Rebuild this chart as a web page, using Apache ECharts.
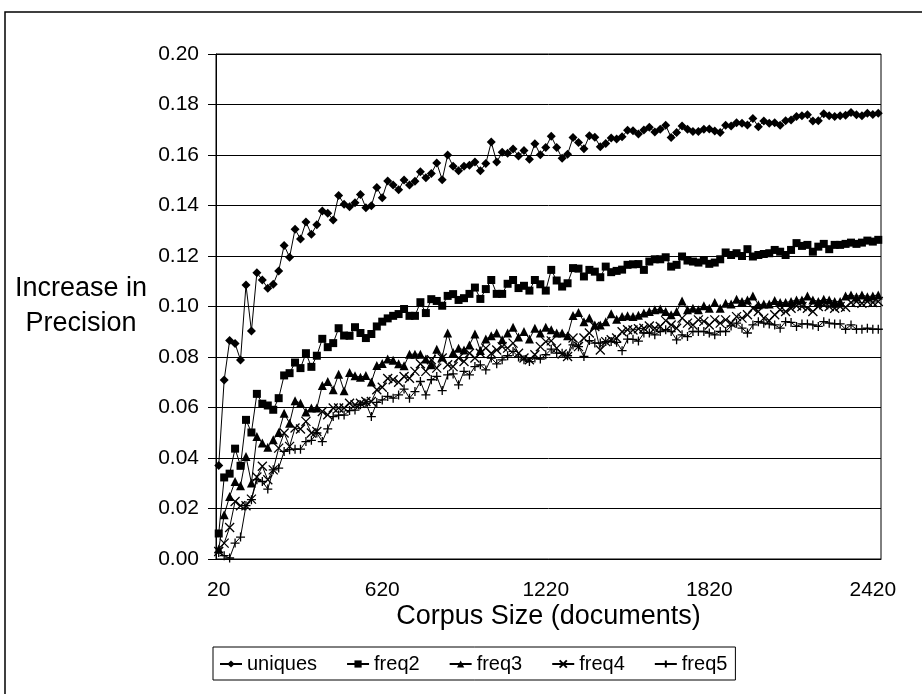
<!DOCTYPE html>
<html>
<head>
<meta charset="utf-8">
<script src="https://cdn.jsdelivr.net/npm/echarts@6/dist/echarts.min.js"></script>
<style>
  html, body { margin: 0; padding: 0; background: #fff; }
  #chart { width: 922px; height: 694px; }
</style>
</head>
<body>
<div id="chart"></div>
<script>
// corpus sizes (documents)
const sizes = [
  20, 40, 60, 80, 100, 120, 140, 160, 180, 200, 220, 240, 260, 280, 300, 320, 340, 360, 380, 400,
  420, 440, 460, 480, 500, 520, 540, 560, 580, 600, 620, 640, 660, 680, 700, 720, 740, 760, 780, 800,
  820, 840, 860, 880, 900, 920, 940, 960, 980, 1000, 1020, 1040, 1060, 1080, 1100, 1120, 1140, 1160, 1180, 1200,
  1220, 1240, 1260, 1280, 1300, 1320, 1340, 1360, 1380, 1400, 1420, 1440, 1460, 1480, 1500, 1520, 1540, 1560, 1580, 1600,
  1620, 1640, 1660, 1680, 1700, 1720, 1740, 1760, 1780, 1800, 1820, 1840, 1860, 1880, 1900, 1920, 1940, 1960, 1980, 2000,
  2020, 2040, 2060, 2080, 2100, 2120, 2140, 2160, 2180, 2200, 2220, 2240, 2260, 2280, 2300, 2320, 2340, 2360, 2380, 2400,
  2420, 2440
];

const uniques = [
  0.0370, 0.0709, 0.0865, 0.0853, 0.0788, 0.1085, 0.0903, 0.1134, 0.1105, 0.1072,
  0.1088, 0.1141, 0.1242, 0.1195, 0.1306, 0.1267, 0.1335, 0.1286, 0.1324, 0.1378,
  0.1369, 0.1343, 0.1440, 0.1405, 0.1395, 0.1411, 0.1444, 0.1391, 0.1399, 0.1471,
  0.1431, 0.1497, 0.1481, 0.1462, 0.1501, 0.1481, 0.1496, 0.1534, 0.1510, 0.1527,
  0.1568, 0.1502, 0.1600, 0.1555, 0.1538, 0.1555, 0.1559, 0.1572, 0.1538, 0.1566,
  0.1651, 0.1572, 0.1611, 0.1607, 0.1624, 0.1596, 0.1618, 0.1583, 0.1645, 0.1601,
  0.1630, 0.1674, 0.1630, 0.1587, 0.1603, 0.1669, 0.1650, 0.1625, 0.1676, 0.1670,
  0.1633, 0.1646, 0.1667, 0.1663, 0.1672, 0.1698, 0.1696, 0.1683, 0.1699, 0.1710,
  0.1691, 0.1702, 0.1718, 0.1669, 0.1689, 0.1715, 0.1702, 0.1693, 0.1693, 0.1702,
  0.1703, 0.1695, 0.1689, 0.1718, 0.1715, 0.1728, 0.1726, 0.1719, 0.1745, 0.1712,
  0.1735, 0.1726, 0.1728, 0.1718, 0.1736, 0.1739, 0.1752, 0.1755, 0.1759, 0.1735,
  0.1736, 0.1763, 0.1755, 0.1752, 0.1755, 0.1757, 0.1768, 0.1759, 0.1755, 0.1765,
  0.1760, 0.1765
];

const freq2 = [
  0.0101, 0.0323, 0.0338, 0.0437, 0.0369, 0.0551, 0.0501, 0.0654, 0.0615, 0.0608,
  0.0591, 0.0637, 0.0727, 0.0736, 0.0778, 0.0756, 0.0815, 0.0761, 0.0805, 0.0872,
  0.0839, 0.0855, 0.0914, 0.0885, 0.0884, 0.0918, 0.0895, 0.0875, 0.0891, 0.0921,
  0.0940, 0.0953, 0.0963, 0.0970, 0.0990, 0.0963, 0.0963, 0.1017, 0.0974, 0.1029,
  0.1022, 0.1003, 0.1042, 0.1049, 0.1026, 0.1033, 0.1050, 0.1075, 0.1030, 0.1069,
  0.1105, 0.1050, 0.1050, 0.1090, 0.1105, 0.1073, 0.1082, 0.1063, 0.1105, 0.1088,
  0.1063, 0.1145, 0.1103, 0.1079, 0.1092, 0.1152, 0.1150, 0.1119, 0.1145, 0.1138,
  0.1116, 0.1158, 0.1136, 0.1141, 0.1146, 0.1165, 0.1167, 0.1168, 0.1145, 0.1178,
  0.1187, 0.1187, 0.1195, 0.1158, 0.1165, 0.1198, 0.1182, 0.1178, 0.1174, 0.1182,
  0.1169, 0.1174, 0.1187, 0.1214, 0.1204, 0.1211, 0.1200, 0.1227, 0.1198, 0.1204,
  0.1208, 0.1211, 0.1224, 0.1217, 0.1204, 0.1224, 0.1251, 0.1240, 0.1244, 0.1217,
  0.1237, 0.1248, 0.1227, 0.1244, 0.1244, 0.1248, 0.1253, 0.1248, 0.1253, 0.1261,
  0.1257, 0.1264
];

const freq3 = [
  0.0040, 0.0175, 0.0248, 0.0307, 0.0290, 0.0406, 0.0301, 0.0485, 0.0459, 0.0443,
  0.0472, 0.0501, 0.0577, 0.0538, 0.0627, 0.0617, 0.0582, 0.0598, 0.0598, 0.0687,
  0.0703, 0.0670, 0.0732, 0.0666, 0.0739, 0.0726, 0.0720, 0.0727, 0.0701, 0.0766,
  0.0774, 0.0792, 0.0787, 0.0773, 0.0765, 0.0811, 0.0811, 0.0811, 0.0792, 0.0769,
  0.0831, 0.0800, 0.0895, 0.0818, 0.0835, 0.0828, 0.0848, 0.0891, 0.0826, 0.0871,
  0.0884, 0.0895, 0.0868, 0.0895, 0.0918, 0.0879, 0.0901, 0.0871, 0.0914, 0.0895,
  0.0918, 0.0908, 0.0895, 0.0895, 0.0884, 0.0964, 0.0976, 0.0940, 0.0954, 0.0927,
  0.0927, 0.0940, 0.0971, 0.0950, 0.0960, 0.0963, 0.0960, 0.0965, 0.0974, 0.0980,
  0.0987, 0.0990, 0.0980, 0.0967, 0.0980, 0.1022, 0.0987, 0.0993, 0.0987, 0.1003,
  0.0993, 0.1016, 0.0993, 0.1013, 0.1010, 0.1029, 0.1020, 0.1026, 0.1042, 0.1007,
  0.1010, 0.1010, 0.1024, 0.1016, 0.1016, 0.1020, 0.1026, 0.1026, 0.1042, 0.1026,
  0.1020, 0.1029, 0.1026, 0.1020, 0.1020, 0.1042, 0.1046, 0.1039, 0.1046, 0.1039,
  0.1042, 0.1046
];

const freq4 = [
  0.0030, 0.0063, 0.0125, 0.0228, 0.0211, 0.0211, 0.0237, 0.0325, 0.0367, 0.0314,
  0.0353, 0.0439, 0.0499, 0.0446, 0.0519, 0.0515, 0.0545, 0.0499, 0.0505, 0.0584,
  0.0571, 0.0598, 0.0598, 0.0598, 0.0617, 0.0611, 0.0617, 0.0624, 0.0624, 0.0670,
  0.0680, 0.0715, 0.0710, 0.0700, 0.0723, 0.0716, 0.0743, 0.0773, 0.0743, 0.0789,
  0.0756, 0.0796, 0.0769, 0.0762, 0.0796, 0.0782, 0.0815, 0.0796, 0.0815, 0.0835,
  0.0815, 0.0828, 0.0841, 0.0835, 0.0855, 0.0815, 0.0796, 0.0789, 0.0809, 0.0841,
  0.0861, 0.0864, 0.0835, 0.0812, 0.0802, 0.0875, 0.0841, 0.0875, 0.0895, 0.0921,
  0.0828, 0.0861, 0.0868, 0.0875, 0.0900, 0.0908, 0.0907, 0.0912, 0.0914, 0.0923,
  0.0914, 0.0921, 0.0944, 0.0927, 0.0914, 0.0954, 0.0934, 0.0927, 0.0947, 0.0941,
  0.0927, 0.0947, 0.0934, 0.0947, 0.0934, 0.0960, 0.0954, 0.0967, 0.0993, 0.0980,
  0.0954, 0.0944, 0.0967, 0.0987, 0.0980, 0.0993, 0.1003, 0.1000, 0.0993, 0.0980,
  0.1000, 0.1007, 0.1000, 0.0993, 0.1000, 0.0997, 0.1016, 0.1020, 0.1013, 0.1020,
  0.1016, 0.1020
];

const freq5 = [
  0.0026, 0.0013, 0.0004, 0.0063, 0.0087, 0.0211, 0.0235, 0.0314, 0.0307, 0.0277,
  0.0353, 0.0360, 0.0426, 0.0433, 0.0435, 0.0435, 0.0465, 0.0470, 0.0499, 0.0465,
  0.0515, 0.0564, 0.0570, 0.0570, 0.0588, 0.0590, 0.0611, 0.0617, 0.0564, 0.0620,
  0.0630, 0.0644, 0.0637, 0.0650, 0.0673, 0.0637, 0.0663, 0.0703, 0.0650, 0.0710,
  0.0723, 0.0667, 0.0729, 0.0733, 0.0690, 0.0743, 0.0729, 0.0762, 0.0769, 0.0749,
  0.0796, 0.0773, 0.0789, 0.0805, 0.0822, 0.0800, 0.0789, 0.0782, 0.0796, 0.0792,
  0.0809, 0.0831, 0.0815, 0.0815, 0.0805, 0.0848, 0.0841, 0.0802, 0.0865, 0.0855,
  0.0855, 0.0861, 0.0861, 0.0858, 0.0825, 0.0871, 0.0870, 0.0863, 0.0895, 0.0895,
  0.0888, 0.0901, 0.0908, 0.0901, 0.0868, 0.0888, 0.0881, 0.0901, 0.0901, 0.0901,
  0.0895, 0.0888, 0.0901, 0.0901, 0.0923, 0.0934, 0.0914, 0.0895, 0.0927, 0.0940,
  0.0934, 0.0931, 0.0927, 0.0914, 0.0940, 0.0937, 0.0921, 0.0931, 0.0931, 0.0927,
  0.0921, 0.0940, 0.0934, 0.0931, 0.0931, 0.0910, 0.0927, 0.0910, 0.0910, 0.0914,
  0.0910, 0.0910
];

const yTicks = ['0.00', '0.02', '0.04', '0.06', '0.08', '0.10', '0.12', '0.14', '0.16', '0.18', '0.20'];

// marker shapes, Excel style
const xMark = 'path://M0,0L10,10M10,0L0,10';
const plusMark = 'path://M5,0L5,10M0,5L10,5';

function lineSeries(name, data, symbol, size, open) {
  return {
    name: name,
    type: 'line',
    data: data,
    symbol: symbol,
    symbolSize: size,
    showAllSymbol: true,
    animation: false,
    lineStyle: { color: '#000', width: 1 },
    itemStyle: open
      ? { color: 'none', borderColor: '#000', borderWidth: 1.3 }
      : { color: '#000', borderColor: '#000', borderWidth: 0 },
    emphasis: { disabled: true }
  };
}

let myChart = echarts.init(document.getElementById('chart'));

myChart.setOption({
  animation: false,
  textStyle: { fontFamily: 'Liberation Sans, Arial, sans-serif', color: '#000' },
  graphic: [
    { // outer chart frame (runs off the right and bottom)
      type: 'rect',
      shape: { x: 5, y: 12, width: 1000, height: 1000 },
      style: { fill: 'none', stroke: '#000', lineWidth: 1.5 },
      silent: true
    }
  ],
  grid: {
    left: 216, top: 54, right: 41, bottom: 135,
    show: true, borderColor: '#000', borderWidth: 1
  },
  legend: {
    left: 213, top: 647,
    padding: [7, 8, 6, 6],
    borderColor: '#000', borderWidth: 1,
    itemWidth: 22, itemHeight: 9, itemGap: 29,
    textStyle: { fontSize: 20, width: 80, color: '#000', fontFamily: 'Liberation Sans, Arial, sans-serif' },
    data: ['uniques', 'freq2', 'freq3', 'freq4', 'freq5']
  },
  xAxis: {
    type: 'category',
    data: sizes,
    boundaryGap: true,
    name: 'Corpus Size (documents)',
    nameLocation: 'middle',
    nameGap: 44,
    nameMoveOverlap: false,
    nameTextStyle: { fontSize: 27, color: '#000' },
    axisLine: { lineStyle: { color: '#000', width: 1 } },
    axisTick: { interval: 29, length: 7, lineStyle: { color: '#000' } },
    axisLabel: { interval: 29, fontSize: 21, margin: 21, color: '#000' },
    splitLine: { show: false }
  },
  yAxis: {
    type: 'value',
    min: 0, max: 0.2, interval: 0.02,
    name: 'Increase in\nPrecision',
    nameLocation: 'middle',
    nameRotate: 0,
    nameGap: 135,
    nameMoveOverlap: false,
    nameTextStyle: { fontSize: 27, color: '#000', align: 'center', lineHeight: 35 },
    axisLine: { show: true, lineStyle: { color: '#000', width: 1 } },
    axisTick: { show: true, length: 8, lineStyle: { color: '#000' } },
    axisLabel: {
      fontSize: 21, margin: 17, color: '#000',
      formatter: function (v) { return yTicks[Math.round(v / 0.02)]; }
    },
    splitLine: { show: true, lineStyle: { color: '#000', width: 1 } }
  },
  series: [
    lineSeries('uniques', uniques, 'diamond', 9, false),
    lineSeries('freq2', freq2, 'rect', 8, false),
    lineSeries('freq3', freq3, 'triangle', 9, false),
    lineSeries('freq4', freq4, xMark, 9, true),
    lineSeries('freq5', freq5, plusMark, 9, true)
  ]
});

window.addEventListener('resize', function () {
  myChart.resize();
});
</script>
</body>
</html>
